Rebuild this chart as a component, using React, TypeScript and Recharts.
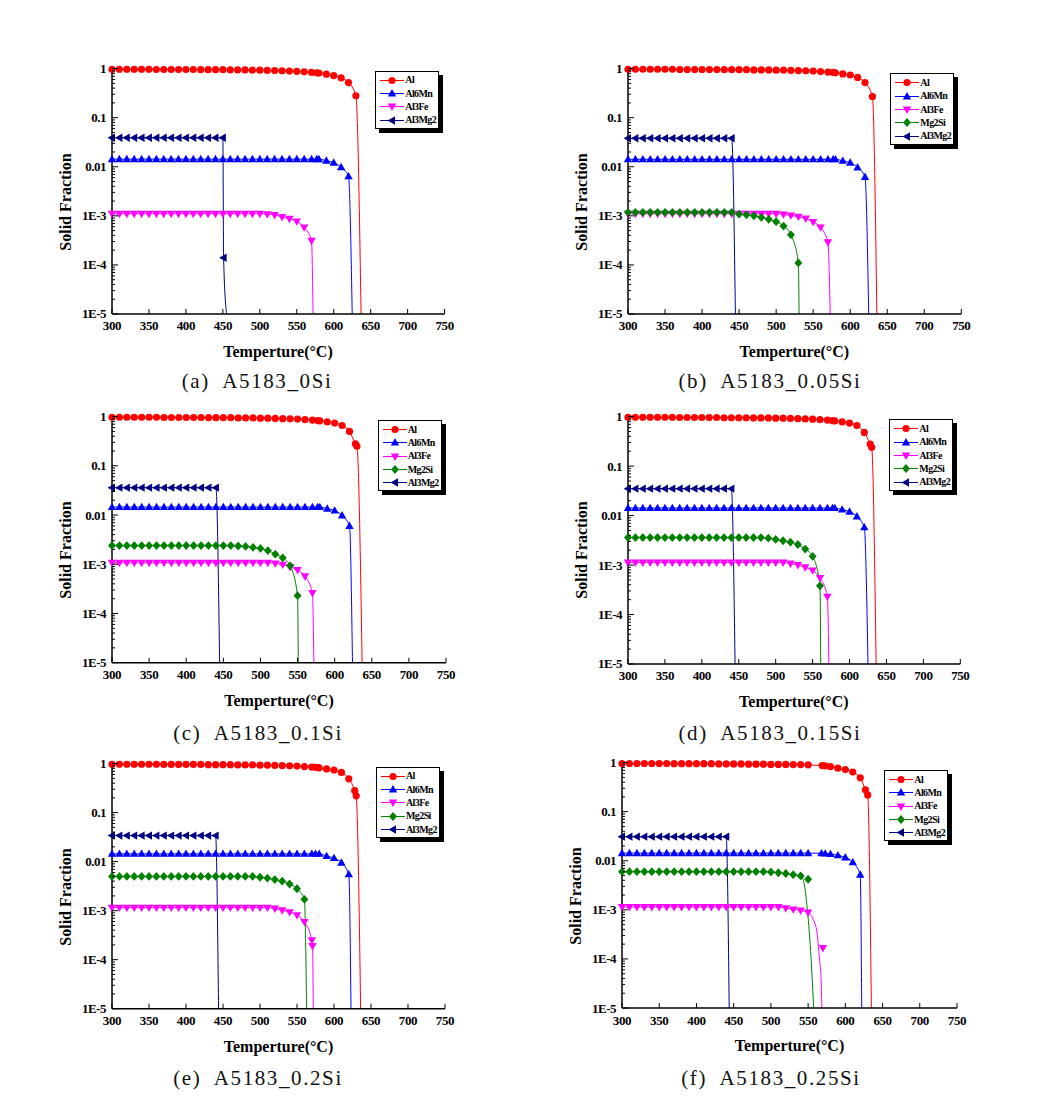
import React from 'react';
import { LineChart, Line, XAxis, YAxis } from 'recharts';

// [temperature, solid fraction, flag] flag: 0 line only, 1 line + marker, 2 marker only
type Pt = [number, number, number];

const TEMPS = [300, 310, 320, 330, 340, 350, 360, 370, 380, 390, 400, 410, 420, 430, 440, 450, 460,
  470, 480, 490, 500, 510, 520, 530, 540, 550, 560, 570, 580, 590, 600, 610, 620, 630];
const X_TICKS = [300, 350, 400, 450, 500, 550, 600, 650, 700, 750];
const Y_TICKS = [0.00001, 0.0001, 0.001, 0.01, 0.1, 1];
const Y_LABELS = ['1E-5', '1E-4', '1E-3', '0.01', '0.1', '1'];
const MINOR_STEPS = [2, 3, 4, 5, 6, 7, 8, 9];

const PHASES = ['Al', 'Al6Mn', 'Al3Fe', 'Mg2Si', 'Al3Mg2'];
const PHASE_COLORS = ['#ff0000', '#0000ff', '#ff00ff', '#008000', '#000080'];
const PHASE_SHAPES = ['circle', 'up', 'down', 'diamond', 'left'];

// (a) A5183_0Si
const A_AL = [0.97, 0.97, 0.97, 0.97, 0.97, 0.97, 0.96, 0.96, 0.96, 0.96,
  0.96, 0.96, 0.95, 0.95, 0.95, 0.95, 0.94, 0.94, 0.94, 0.93,
  0.93, 0.92, 0.91, 0.9, 0.89, 0.88, 0.86, 0.84, 0.81, 0.77,
  0.72, 0.65, 0.52, 0.28];
const A_AL_X: Pt[] = [[577, 0.82, 1], [637, 0.00001, 0]];
const A_MN = [0.0143, 0.0143, 0.0143, 0.0143, 0.0143, 0.0143, 0.0143, 0.0143, 0.0143, 0.0143,
  0.0143, 0.0143, 0.0143, 0.0143, 0.0143, 0.0143, 0.0143, 0.0143, 0.0143, 0.0143,
  0.0143, 0.0143, 0.0143, 0.0143, 0.0143, 0.0143, 0.0143, 0.0143, 0.0143,
  0.0133, 0.0121, 0.0098, 0.0064];
const A_MN_X: Pt[] = [[577, 0.0143, 1], [625, 0.00001, 0]];
const A_FE = [0.0011, 0.0011, 0.0011, 0.0011, 0.0011, 0.0011, 0.0011, 0.0011, 0.0011, 0.0011,
  0.0011, 0.0011, 0.0011, 0.0011, 0.0011, 0.0011, 0.0011, 0.0011, 0.0011, 0.0011,
  0.0011, 0.00108, 0.00104, 0.00095, 0.00087, 0.00077, 0.00058, 0.00031];
const A_FE_X: Pt[] = [[572, 0.00001, 0]];
const A_MG = [0.039, 0.039, 0.039, 0.039, 0.039, 0.039, 0.039, 0.039, 0.039, 0.039,
  0.039, 0.039, 0.039, 0.039, 0.039, 0.039];
const A_MG_X: Pt[] = [[451, 0.00014, 1], [455, 0.00001, 0]];

// (b) A5183_0.05Si
const B_AL = [0.97, 0.97, 0.97, 0.97, 0.97, 0.97, 0.97, 0.96, 0.96, 0.96,
  0.96, 0.96, 0.96, 0.95, 0.95, 0.95, 0.95, 0.94, 0.94, 0.94,
  0.93, 0.93, 0.92, 0.91, 0.9, 0.89, 0.87, 0.85, 0.82, 0.78,
  0.74, 0.66, 0.52, 0.27];
const B_AL_X: Pt[] = [[577, 0.835, 1], [636, 0.00001, 0]];
const B_MN = [0.0142, 0.0142, 0.0142, 0.0142, 0.0142, 0.0142, 0.0142, 0.0142, 0.0142, 0.0142,
  0.0142, 0.0142, 0.0142, 0.0142, 0.0142, 0.0142, 0.0142, 0.0142, 0.0142, 0.0142,
  0.0142, 0.0142, 0.0142, 0.0142, 0.0142, 0.0142, 0.0142, 0.0142, 0.0142,
  0.0132, 0.0121, 0.0097, 0.0062];
const B_MN_X: Pt[] = [[577, 0.0142, 1], [625, 0.00001, 0]];
const B_FE = [0.0011, 0.0011, 0.0011, 0.0011, 0.0011, 0.0011, 0.0011, 0.0011, 0.0011, 0.0011,
  0.0011, 0.0011, 0.0011, 0.0011, 0.0011, 0.0011, 0.0011, 0.0011, 0.0011, 0.0011,
  0.0011, 0.00107, 0.00102, 0.00096, 0.00088, 0.00075, 0.00058, 0.00029];
const B_FE_X: Pt[] = [[573, 0.00001, 0]];
const B_SI = [0.00118, 0.00118, 0.00118, 0.00118, 0.00118, 0.00118, 0.00118, 0.00118, 0.00118, 0.00118,
  0.00118, 0.00118, 0.00118, 0.00118, 0.00118, 0.00108, 0.00105, 0.001, 0.00093, 0.00085,
  0.00076, 0.00062, 0.00041, 0.00011];
const B_SI_X: Pt[] = [[531, 0.00001, 0]];
const B_MG = [0.038, 0.038, 0.038, 0.038, 0.038, 0.038, 0.038, 0.038, 0.038, 0.038,
  0.038, 0.038, 0.038, 0.038, 0.038];
const B_MG_X: Pt[] = [[445, 0.00001, 0]];

// (c) A5183_0.1Si
const C_AL = [0.97, 0.97, 0.97, 0.97, 0.97, 0.97, 0.97, 0.96, 0.96, 0.96,
  0.96, 0.96, 0.96, 0.95, 0.95, 0.95, 0.95, 0.94, 0.94, 0.94,
  0.93, 0.93, 0.92, 0.91, 0.9, 0.89, 0.87, 0.85, 0.82, 0.78,
  0.74, 0.66, 0.5, 0.25];
const C_AL_X: Pt[] = [[577, 0.83, 1], [628, 0.28, 1], [637, 0.00001, 0]];
const C_MN = [0.0145, 0.0145, 0.0145, 0.0145, 0.0145, 0.0145, 0.0145, 0.0145, 0.0145, 0.0145,
  0.0145, 0.0145, 0.0145, 0.0145, 0.0145, 0.0145, 0.0145, 0.0145, 0.0145, 0.0145,
  0.0145, 0.0145, 0.0145, 0.0145, 0.0145, 0.0145, 0.0145, 0.0145, 0.0145,
  0.0135, 0.0123, 0.0098, 0.006];
const C_MN_X: Pt[] = [[577, 0.0145, 1], [624, 0.00001, 0]];
const C_FE = [0.00107, 0.00107, 0.00107, 0.00107, 0.00107, 0.00107, 0.00107, 0.00107, 0.00107, 0.00107,
  0.00107, 0.00107, 0.00107, 0.00107, 0.00107, 0.00107, 0.00107, 0.00107, 0.00107, 0.00107,
  0.00107, 0.00107, 0.00104, 0.00098, 0.00088, 0.00076, 0.00057, 0.00026];
const C_FE_X: Pt[] = [[572, 0.00001, 0]];
const C_SI = [0.0024, 0.0024, 0.0024, 0.0024, 0.0024, 0.0024, 0.0024, 0.0024, 0.0024, 0.0024,
  0.0024, 0.0024, 0.0024, 0.0024, 0.0024, 0.0024, 0.0024, 0.00235, 0.0023, 0.0022,
  0.0021, 0.0019, 0.0016, 0.00135, 0.00093, 0.00023];
const C_SI_X: Pt[] = [[551, 0.00001, 0]];
const C_MG = [0.036, 0.036, 0.036, 0.036, 0.036, 0.036, 0.036, 0.036, 0.036, 0.036,
  0.036, 0.036, 0.036, 0.036, 0.036];
const C_MG_X: Pt[] = [[445, 0.00001, 0]];

// (d) A5183_0.15Si
const D_AL = [0.97, 0.97, 0.97, 0.97, 0.97, 0.97, 0.97, 0.96, 0.96, 0.96,
  0.96, 0.96, 0.96, 0.95, 0.95, 0.95, 0.95, 0.94, 0.94, 0.94,
  0.93, 0.93, 0.92, 0.91, 0.9, 0.89, 0.87, 0.85, 0.82, 0.78,
  0.74, 0.66, 0.48, 0.24];
const D_AL_X: Pt[] = [[577, 0.83, 1], [628, 0.28, 1], [636, 0.00001, 0]];
const D_MN = [0.0142, 0.0142, 0.0142, 0.0142, 0.0142, 0.0142, 0.0142, 0.0142, 0.0142, 0.0142,
  0.0142, 0.0142, 0.0142, 0.0142, 0.0142, 0.0142, 0.0142, 0.0142, 0.0142, 0.0142,
  0.0142, 0.0142, 0.0142, 0.0142, 0.0142, 0.0142, 0.0142, 0.0142, 0.0142,
  0.0132, 0.012, 0.0096, 0.0058];
const D_MN_X: Pt[] = [[577, 0.0142, 1], [625, 0.00001, 0]];
const D_FE = [0.00112, 0.00112, 0.00112, 0.00112, 0.00112, 0.00112, 0.00112, 0.00112, 0.00112, 0.00112,
  0.00112, 0.00112, 0.00112, 0.00112, 0.00112, 0.00112, 0.00112, 0.00112, 0.00112, 0.00112,
  0.00112, 0.00112, 0.00107, 0.001, 0.0009, 0.00078, 0.00055, 0.00023];
const D_FE_X: Pt[] = [[572, 0.00001, 0]];
const D_SI = [0.0036, 0.0036, 0.0036, 0.0036, 0.0036, 0.0036, 0.0036, 0.0036, 0.0036, 0.0036,
  0.0036, 0.0036, 0.0036, 0.0036, 0.0036, 0.0036, 0.0036, 0.0036, 0.0036, 0.0035,
  0.0033, 0.0031, 0.0029, 0.0026, 0.0021, 0.0015, 0.00038];
const D_SI_X: Pt[] = [[561, 0.00001, 0]];
const D_MG = [0.035, 0.035, 0.035, 0.035, 0.035, 0.035, 0.035, 0.035, 0.035, 0.035,
  0.035, 0.035, 0.035, 0.035, 0.035];
const D_MG_X: Pt[] = [[445, 0.00001, 0]];

// (e) A5183_0.2Si
const E_AL = [0.97, 0.97, 0.97, 0.97, 0.97, 0.97, 0.97, 0.96, 0.96, 0.96,
  0.96, 0.96, 0.96, 0.95, 0.95, 0.95, 0.95, 0.94, 0.94, 0.94,
  0.93, 0.93, 0.92, 0.91, 0.9, 0.89, 0.87, 0.85, 0.82, 0.78,
  0.74, 0.66, 0.49, 0.22];
const E_AL_X: Pt[] = [[575, 0.84, 1], [578, 0.825, 1], [628, 0.28, 1], [636, 0.00001, 0]];
const E_MN = [0.0144, 0.0144, 0.0144, 0.0144, 0.0144, 0.0144, 0.0144, 0.0144, 0.0144, 0.0144,
  0.0144, 0.0144, 0.0144, 0.0144, 0.0144, 0.0144, 0.0144, 0.0144, 0.0144, 0.0144,
  0.0144, 0.0144, 0.0144, 0.0144, 0.0144, 0.0144, 0.0144, 0.0144, 0.0144,
  0.013, 0.0118, 0.0095, 0.0055];
const E_MN_X: Pt[] = [[575, 0.0144, 1], [623, 0.00001, 0]];
const E_FE = [0.00115, 0.00115, 0.00115, 0.00115, 0.00115, 0.00115, 0.00115, 0.00115, 0.00115, 0.00115,
  0.00115, 0.00115, 0.00115, 0.00115, 0.00115, 0.00115, 0.00115, 0.00115, 0.00115, 0.00115,
  0.00115, 0.00115, 0.0011, 0.00102, 0.00093, 0.00081, 0.00059, 0.00025];
const E_FE_X: Pt[] = [[571, 0.00019, 1], [572, 0.00001, 0]];
const E_SI = [0.005, 0.005, 0.005, 0.005, 0.005, 0.005, 0.005, 0.005, 0.005, 0.005,
  0.005, 0.005, 0.005, 0.005, 0.005, 0.005, 0.005, 0.005, 0.005, 0.005,
  0.0048, 0.0046, 0.0043, 0.004, 0.0035, 0.0028, 0.0017];
const E_SI_X: Pt[] = [[563, 0.00001, 0]];
const E_MG = [0.034, 0.034, 0.034, 0.034, 0.034, 0.034, 0.034, 0.034, 0.034, 0.034,
  0.034, 0.034, 0.034, 0.034, 0.034];
const E_MG_X: Pt[] = [[444, 0.00001, 0]];

// (f) A5183_0.25Si
const F_AL = [0.96, 0.96, 0.96, 0.96, 0.96, 0.96, 0.96, 0.95, 0.95, 0.95,
  0.95, 0.95, 0.95, 0.94, 0.94, 0.94, 0.94, 0.93, 0.93, 0.93,
  0.92, 0.92, 0.92, 0.91, 0.91, 0.9, null, null, 0.83, 0.77,
  0.72, 0.64, 0.49, 0.22];
const F_AL_X: Pt[] = [[569, 0.87, 1], [573, 0.86, 1], [627, 0.28, 1], [635, 0.00001, 0]];
const F_MN = [0.0143, 0.0143, 0.0143, 0.0143, 0.0143, 0.0143, 0.0143, 0.0143, 0.0143, 0.0143,
  0.0143, 0.0143, 0.0143, 0.0143, 0.0143, 0.0143, 0.0143, 0.0143, 0.0143, 0.0143,
  0.0143, 0.0143, 0.0143, 0.0143, 0.0143, 0.0143, null, null, 0.0137,
  0.0129, 0.0117, 0.0093, 0.0052];
const F_MN_X: Pt[] = [[568, 0.0142, 1], [573, 0.014, 1], [622, 0.00001, 0]];
const F_FE = [0.00114, 0.00114, 0.00114, 0.00114, 0.00114, 0.00114, 0.00114, 0.00114, 0.00114, 0.00114,
  0.00114, 0.00114, 0.00114, 0.00114, 0.00114, 0.00114, 0.00114, 0.00114, 0.00114, 0.00114,
  0.00114, 0.00114, 0.00108, 0.00102, 0.00097, 0.00088];
const F_FE_X: Pt[] = [[557, 0.00063, 0], [562, 0.00034, 0], [565, 0.00011, 0], [567.5, 0.000038, 0],
  [568.5, 0.00001, 0], [570, 0.000166, 2]];
const F_SI = [0.006, 0.006, 0.006, 0.006, 0.006, 0.006, 0.006, 0.006, 0.006, 0.006,
  0.006, 0.006, 0.006, 0.006, 0.006, 0.006, 0.006, 0.006, 0.006, 0.006,
  0.0059, 0.0057, 0.0055, 0.0052, 0.0049];
const F_SI_X: Pt[] = [[544, 0.0038, 0], [549, 0.001, 0], [554, 0.0001, 0], [557.5, 0.00001, 0],
  [550, 0.0042, 2]];
const F_MG = [0.031, 0.031, 0.031, 0.031, 0.031, 0.031, 0.031, 0.031, 0.031, 0.031,
  0.031, 0.031, 0.031, 0.031, 0.031];
const F_MG_X: Pt[] = [[444, 0.00001, 0]];

type SeriesDef = [string, (number | null)[], Pt[]];

const PANELS = [
  {
    caption: '(a)  A5183_0Si', L: 111.7, R: 444.3, T: 66, B: 314, lg: [5, 4.7], cap: [257, 381],
    series: [['Al', A_AL, A_AL_X], ['Al6Mn', A_MN, A_MN_X], ['Al3Fe', A_FE, A_FE_X], ['Al3Mg2', A_MG, A_MG_X]] as SeriesDef[],
  },
  {
    caption: '(b)  A5183_0.05Si', L: 627.7, R: 961, T: 66, B: 314, lg: [6.7, 7.3], cap: [770, 381],
    series: [['Al', B_AL, B_AL_X], ['Al6Mn', B_MN, B_MN_X], ['Al3Fe', B_FE, B_FE_X], ['Mg2Si', B_SI, B_SI_X], ['Al3Mg2', B_MG, B_MG_X]] as SeriesDef[],
  },
  {
    caption: '(c)  A5183_0.1Si', L: 112, R: 446, T: 414, B: 662.7, lg: [4.3, 6], cap: [258, 733],
    series: [['Al', C_AL, C_AL_X], ['Al6Mn', C_MN, C_MN_X], ['Al3Fe', C_FE, C_FE_X], ['Mg2Si', C_SI, C_SI_X], ['Al3Mg2', C_MG, C_MG_X]] as SeriesDef[],
  },
  {
    caption: '(d)  A5183_0.15Si', L: 627.7, R: 960, T: 414, B: 664, lg: [6.7, 5.3], cap: [770, 733],
    series: [['Al', D_AL, D_AL_X], ['Al6Mn', D_MN, D_MN_X], ['Al3Fe', D_FE, D_FE_X], ['Mg2Si', D_SI, D_SI_X], ['Al3Mg2', D_MG, D_MG_X]] as SeriesDef[],
  },
  {
    caption: '(e)  A5183_0.2Si', L: 112, R: 445, T: 761.3, B: 1009, lg: [5, 5.4], cap: [258, 1078],
    series: [['Al', E_AL, E_AL_X], ['Al6Mn', E_MN, E_MN_X], ['Al3Fe', E_FE, E_FE_X], ['Mg2Si', E_SI, E_SI_X], ['Al3Mg2', E_MG, E_MG_X]] as SeriesDef[],
  },
  {
    caption: '(f)  A5183_0.25Si', L: 622, R: 957, T: 760, B: 1008, lg: [8.7, 10], cap: [771, 1078],
    series: [['Al', F_AL, F_AL_X], ['Al6Mn', F_MN, F_MN_X], ['Al3Fe', F_FE, F_FE_X], ['Mg2Si', F_SI, F_SI_X], ['Al3Mg2', F_MG, F_MG_X]] as SeriesDef[],
  },
];

const FONT = '"Liberation Serif", "Times New Roman", serif';
const Y_ALL = [...Y_TICKS, ...Y_TICKS.slice(0, 5).flatMap((d) => MINOR_STEPS.map((k) => d * k))];
const AXIS = { stroke: '#000', strokeWidth: 1.5 };

function buildSeries(vals: (number | null)[], extra: Pt[]) {
  const line: { t: number; v: number; m: number }[] = [];
  const marks: { t: number; v: number; m: number }[] = [];
  vals.forEach((v, i) => {
    if (v != null) line.push({ t: TEMPS[i], v, m: 1 });
  });
  extra.forEach(([t, v, m]) => {
    if (m === 2) marks.push({ t, v, m: 1 });
    else line.push({ t, v, m });
  });
  line.sort((a, b) => a.t - b.t);
  return { line, marks };
}

function Marker({ shape, cx, cy, color }: { shape: string; cx: number; cy: number; color: string }) {
  if (shape === 'circle') return <circle cx={cx} cy={cy} r={3.6} fill={color} />;
  let pts = '';
  if (shape === 'up') pts = `${cx},${cy - 4.4} ${cx + 4.2},${cy + 3} ${cx - 4.2},${cy + 3}`;
  if (shape === 'down') pts = `${cx},${cy + 4.4} ${cx + 4.2},${cy - 3} ${cx - 4.2},${cy - 3}`;
  if (shape === 'diamond') pts = `${cx},${cy - 4.4} ${cx + 4},${cy} ${cx},${cy + 4.4} ${cx - 4},${cy}`;
  if (shape === 'left') pts = `${cx - 4.4},${cy} ${cx + 3},${cy - 4.2} ${cx + 3},${cy + 4.2}`;
  return <polygon points={pts} fill={color} />;
}

function YTick(props: any) {
  const { x, y, payload } = props;
  const idx = Y_TICKS.findIndex((t) => Math.abs(Math.log10(t) - Math.log10(payload.value)) < 1e-6);
  const major = idx >= 0;
  return (
    <g>
      <line x1={x} x2={x + (major ? 6 : 3)} y1={y} y2={y} stroke="#000" strokeWidth={1} />
      {major && (
        <text x={x - 6} y={y} textAnchor="end" dominantBaseline="central" fontFamily={FONT}
          fontWeight="bold" fontSize={13} letterSpacing={-0.5} fill="#000">
          {Y_LABELS[idx]}
        </text>
      )}
    </g>
  );
}

function XTick(props: any) {
  const { x, y, payload } = props;
  return (
    <g>
      <line x1={x} x2={x} y1={y} y2={y - 5} stroke="#000" strokeWidth={1} />
      <text x={x} y={y + 12} textAnchor="middle" dominantBaseline="central" fontFamily={FONT}
        fontWeight="bold" fontSize={13} letterSpacing={-0.4} fill="#000">
        {payload.value}
      </text>
    </g>
  );
}

function LegendBox({ left, top, names }: { left: number; top: number; names: string[] }) {
  return (
    <div style={{
      position: 'absolute', left, top, width: 64, boxSizing: 'border-box', border: '1px solid #000',
      boxShadow: '4px 4px 0 #000', background: '#fff', paddingTop: 2, paddingBottom: 1,
    }}>
      {names.map((n) => {
        const i = PHASES.indexOf(n);
        return (
          <div key={n} style={{ height: 13.3, display: 'flex', alignItems: 'center', whiteSpace: 'nowrap' }}>
            <svg width={29} height={13} style={{ flex: 'none' }}>
              <line x1={4} x2={28} y1={6.5} y2={6.5} stroke={PHASE_COLORS[i]} strokeWidth={1} />
              <Marker shape={PHASE_SHAPES[i]} cx={16} cy={6.5} color={PHASE_COLORS[i]} />
            </svg>
            <span style={{ fontFamily: FONT, fontWeight: 'bold', fontSize: 10, letterSpacing: -0.6, lineHeight: 1 }}>{n}</span>
          </div>
        );
      })}
    </div>
  );
}

function Panel({ p }: { p: (typeof PANELS)[number] }) {
  const { L, R, T, B } = p;
  const w = R - L + 75;
  const h = B - T + 40;
  const names = p.series.map((s) => s[0]);
  return (
    <>
      <div style={{ position: 'absolute', left: L - 60, top: T - 10 }}>
        <LineChart width={w} height={h} margin={{ top: 10, right: 15, left: 0, bottom: 0 }}>
          <XAxis dataKey="t" type="number" domain={[300, 750]} ticks={X_TICKS} interval={0}
            tick={(tp: any) => <XTick {...tp} />} tickLine={false} tickSize={0} tickMargin={0}
            height={30} axisLine={AXIS} />
          <XAxis xAxisId="top" orientation="top" type="number" domain={[300, 750]} tick={false}
            tickLine={false} height={0} axisLine={AXIS} />
          <YAxis scale="log" type="number" domain={[0.00001, 1.13]} ticks={Y_ALL} interval={0}
            tick={(tp: any) => <YTick {...tp} />} tickLine={false} tickSize={0} tickMargin={0}
            width={60} axisLine={AXIS} />
          <YAxis yAxisId="right" orientation="right" type="number" domain={[0, 1]} tick={false}
            tickLine={false} width={0} axisLine={AXIS} />
          {p.series.map(([name, vals, extra]) => {
            const i = PHASES.indexOf(name);
            const color = PHASE_COLORS[i];
            const shape = PHASE_SHAPES[i];
            const { line, marks } = buildSeries(vals, extra);
            const dot = (dp: any) =>
              dp.payload && dp.payload.m ? (
                <Marker key={`m${dp.index}`} shape={shape} cx={dp.cx} cy={dp.cy} color={color} />
              ) : (
                <g key={`m${dp.index}`} />
              );
            return (
              <React.Fragment key={name}>
                <Line data={line} dataKey="v" name={name} type="monotone" stroke={color} strokeWidth={1}
                  dot={dot} activeDot={false} isAnimationActive={false} />
                {marks.length > 0 && (
                  <Line data={marks} dataKey="v" name={`${name} end`} stroke="none" dot={dot}
                    activeDot={false} isAnimationActive={false} legendType="none" />
                )}
              </React.Fragment>
            );
          })}
        </LineChart>
      </div>
      <LegendBox left={R - p.lg[0] - 64} top={T + p.lg[1]} names={names} />
      <div style={{
        position: 'absolute', left: L - 46, top: T + 135.5, transform: 'translate(-50%, -50%) rotate(-90deg)',
        fontFamily: FONT, fontWeight: 'bold', fontSize: 16, whiteSpace: 'nowrap', lineHeight: 1,
      }}>
        Solid Fraction
      </div>
      <div style={{
        position: 'absolute', left: (L + R) / 2, top: B + 38, transform: 'translate(-50%, -50%)', lineHeight: 1,
        fontFamily: FONT, fontWeight: 'bold', fontSize: 16, whiteSpace: 'nowrap',
      }}>
        Temperture(°C)
      </div>
      <div style={{
        position: 'absolute', left: p.cap[0], top: p.cap[1], transform: 'translate(-50%, -50%)',
        fontFamily: FONT, fontSize: 21, letterSpacing: 1.6, whiteSpace: 'pre', lineHeight: 1, color: '#111',
      }}>
        {p.caption}
      </div>
    </>
  );
}

export default function App() {
  return (
    <div style={{ position: 'absolute', left: 0, top: 0, width: 1047, height: 1102, background: '#fff', overflow: 'hidden' }}>
      {PANELS.map((p) => (
        <Panel key={p.caption} p={p} />
      ))}
    </div>
  );
}
